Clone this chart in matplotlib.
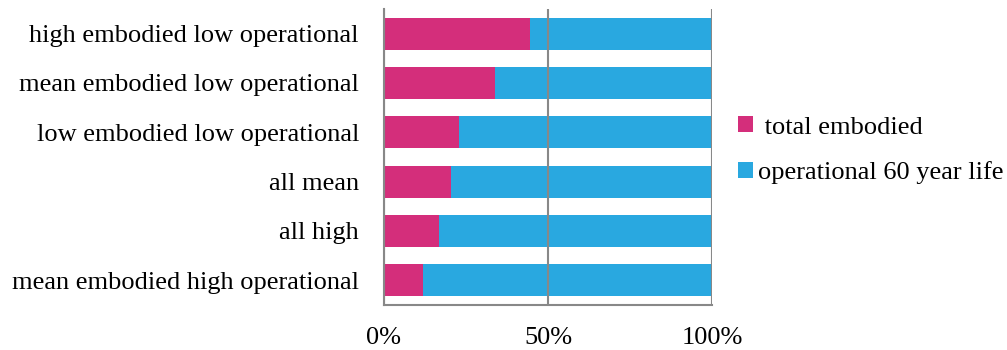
import matplotlib.pyplot as plt

# share of life-cycle energy per scenario (percent)
scenarios = ['high embodied low operational', 'mean embodied low operational',
             'low embodied low operational', 'all mean', 'all high',
             'mean embodied high operational']
embodied = [44.5, 33.8, 22.9, 20.4, 16.8, 12.0]
operational = [100 - e for e in embodied]

x_ticks = [0, 50, 100]
x_tick_labels = ['0%', '50%', '100%']

plt.rcParams['font.family'] = ['Liberation Serif', 'DejaVu Serif']

fig = plt.figure(figsize=(10.07, 3.5), dpi=100)
ax = fig.add_axes([0.3813, 0.1286, 0.326, 0.846])

#stacked horizontal bars, first scenario on top
pos = list(range(len(scenarios)))[::-1]
ax.barh(pos, embodied, height=0.65, color='#D42E7B', label=' total embodied')
ax.barh(pos, operational, left=embodied, height=0.65, color='#29A8E0',
        label='operational 60 year life')

ax.set_xlim(0, 100)
ax.set_ylim(-0.5, len(scenarios) - 0.5)
ax.set_yticks(pos)
ax.set_yticklabels(scenarios, fontsize=19)
ax.set_xticks(x_ticks)
ax.set_xticklabels(x_tick_labels, fontsize=19)
ax.tick_params(axis='y', length=0, pad=18)
ax.tick_params(axis='x', length=0, pad=16)

#gray frame and gridlines
for side in ['top', 'right']:
    ax.spines[side].set_visible(False)
for side in ['left', 'bottom']:
    ax.spines[side].set_color('#888888')
    ax.spines[side].set_linewidth(1.5)
ax.xaxis.grid(True, color='#888888', linewidth=1.5)
ax.set_axisbelow(False)
for line in ax.get_xgridlines():
    line.set_zorder(0.5)

fig.legend(loc='center left', bbox_to_anchor=(0.733, 0.571), frameon=False,
           fontsize=19, handlelength=0.55, handleheight=0.55, handletextpad=0.2,
           labelspacing=0.85, borderpad=0, borderaxespad=0)

fig.savefig('out.png', dpi=100)
